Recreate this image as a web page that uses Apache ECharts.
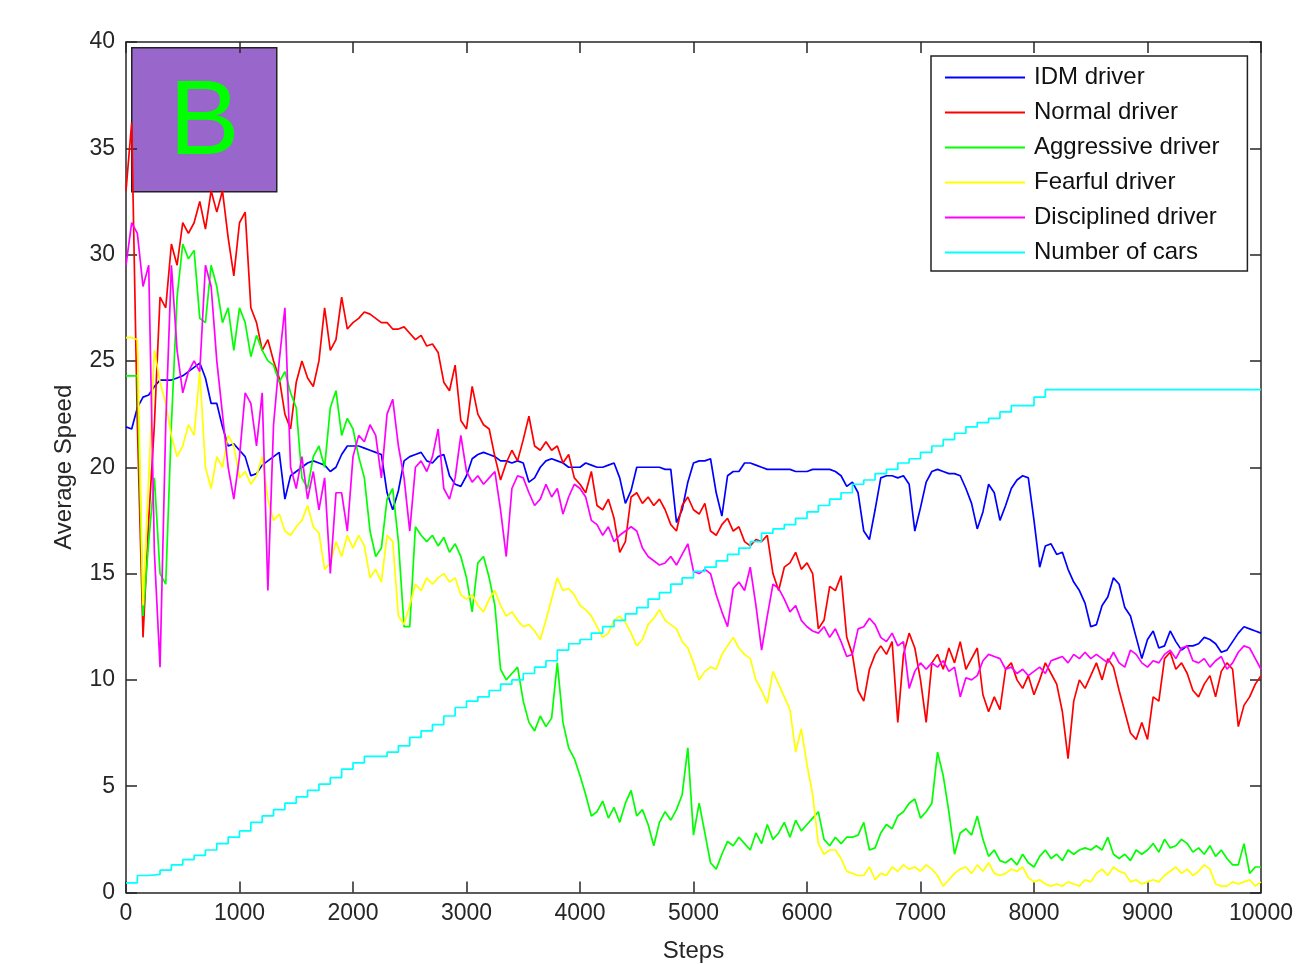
<!DOCTYPE html>
<html>
<head>
<meta charset="utf-8">
<script src="https://cdn.jsdelivr.net/npm/echarts@6/dist/echarts.min.js"></script>
<style>
html,body{margin:0;padding:0;background:#fff;overflow:hidden;}
#chart{width:1300px;height:964px;}
</style>
</head>
<body>
<div id="chart"></div>
<script>
// ---- DATA (sampled every 50 steps from 0 to 10000) ----
const seriesNames = ["IDM driver","Normal driver","Aggressive driver","Fearful driver","Disciplined driver","Number of cars"];
const xTicks = [0,1000,2000,3000,4000,5000,6000,7000,8000,9000,10000];
const yTicks = [0,5,10,15,20,25,30,35,40];

const idmDriver = [
21.9,21.8,22.8,23.3,23.4,23.8,24.1,24.1,24.1,24.2,
24.3,24.5,24.7,24.9,24.2,23.0,23.0,21.9,21.0,21.1,
20.8,20.5,19.6,19.7,20.1,20.3,20.5,20.7,18.5,19.6,
19.8,20.0,20.2,20.3,20.2,20.1,19.8,20.0,20.6,21.0,
21.0,21.0,20.9,20.8,20.7,20.6,18.8,18.0,18.9,20.3,
20.5,20.6,20.7,20.3,20.2,20.5,20.6,19.6,19.2,19.1,
19.6,20.4,20.6,20.7,20.6,20.5,20.3,20.3,20.2,20.3,
20.2,19.3,19.5,20.0,20.3,20.4,20.3,20.2,20.0,20.0,
20.0,20.2,20.1,20.0,20.0,20.1,20.2,19.5,18.3,18.9,
20.0,20.0,20.0,20.0,20.0,19.9,19.9,17.4,18.0,19.3,
20.2,20.3,20.3,20.4,18.8,17.7,19.6,19.8,19.8,20.2,
20.2,20.1,20.0,19.9,19.9,19.9,19.9,19.9,19.8,19.8,
19.8,19.9,19.9,19.9,19.9,19.8,19.6,19.1,19.3,18.8,
17.0,16.6,18.0,19.5,19.6,19.6,19.5,19.6,19.2,17.0,
18.1,19.3,19.8,19.9,19.8,19.7,19.7,19.6,19.0,18.3,
17.1,17.9,19.2,18.8,17.5,18.2,19.0,19.4,19.6,19.5,
17.5,15.3,16.3,16.4,15.9,16.0,15.2,14.6,14.2,13.6,
12.5,12.6,13.5,13.9,14.8,14.5,13.4,13.0,12.0,11.0,
11.9,12.3,11.5,11.6,12.3,11.8,11.4,11.6,11.6,11.7,
12.0,11.9,11.7,11.3,11.4,11.8,12.2,12.5,12.4,12.3,
12.2];

const normalDriver = [
33.0,36.2,22.0,12.0,17.5,22.0,28.0,27.5,30.5,29.5,
31.5,31.0,31.5,32.5,31.2,33.0,32.0,33.0,30.8,29.0,
31.5,32.0,27.5,26.8,25.5,26.0,25.0,24.2,22.5,21.8,
24.0,25.0,24.2,23.8,25.0,27.5,25.5,26.0,28.0,26.5,
26.8,27.0,27.3,27.2,27.0,26.8,26.8,26.5,26.5,26.6,
26.3,26.0,26.2,25.7,25.8,25.4,24.0,23.6,24.8,22.2,
21.8,23.8,22.5,22.0,21.8,20.5,19.4,20.2,20.8,20.3,
21.3,22.4,21.0,20.8,21.2,20.8,21.0,20.2,20.6,19.5,
19.2,18.8,19.8,18.2,18.0,18.5,17.6,16.0,16.5,18.6,
18.8,18.3,18.6,18.2,18.5,18.0,17.3,17.0,18.2,18.6,
18.0,17.8,18.3,17.0,16.8,17.3,17.6,17.0,17.2,16.5,
16.3,16.6,16.5,16.8,15.0,14.2,15.3,15.5,16.0,15.2,
15.5,15.0,12.4,12.8,14.4,14.2,14.9,12.0,11.2,9.5,
9.0,10.5,11.2,11.6,11.2,11.8,8.0,11.2,12.2,11.5,
10.0,8.0,10.8,11.2,10.5,11.5,10.8,11.8,10.5,11.0,
11.5,9.3,8.5,9.2,8.6,10.5,10.8,10.0,9.6,10.2,
9.3,10.0,10.8,10.3,9.8,8.5,6.3,9.0,10.0,9.6,
10.2,10.8,10.0,11.0,10.6,9.5,8.5,7.5,7.2,8.0,
7.2,9.2,9.0,11.0,11.3,10.5,10.8,10.3,9.5,9.2,
9.8,10.2,9.2,10.4,10.8,10.5,7.8,8.8,9.2,9.8,
10.2];

const aggressiveDriver = [
24.3,24.3,24.3,13.0,16.5,19.5,15.0,14.5,22.0,28.0,
30.5,29.8,30.2,27.0,26.8,29.5,28.5,26.8,27.5,25.5,
27.5,26.8,25.2,26.2,25.5,25.0,24.8,24.0,24.5,23.5,
22.8,19.5,19.0,20.5,21.0,20.0,22.8,23.6,21.5,22.3,
21.8,20.5,19.5,17.0,15.8,16.2,18.5,19.0,16.5,12.5,
12.5,17.2,16.8,16.5,16.8,16.3,16.7,16.0,16.4,15.8,
14.8,13.2,15.5,15.8,14.8,13.5,10.5,10.0,10.3,10.6,
9.0,8.0,7.6,8.3,7.8,8.2,10.8,8.0,6.8,6.3,
5.5,4.6,3.6,3.8,4.3,3.5,4.0,3.3,4.2,4.8,
3.6,3.9,3.2,2.2,3.3,3.8,3.4,3.9,4.6,6.8,
2.7,4.2,2.8,1.4,1.1,1.8,2.4,2.2,2.6,2.3,
2.0,2.8,2.3,3.2,2.5,2.8,3.3,2.6,3.4,2.9,
3.2,3.5,3.8,2.5,2.2,2.6,2.3,2.6,2.6,2.7,
3.3,2.0,2.1,2.8,3.2,3.0,3.6,3.8,4.2,4.4,
3.5,3.8,4.2,6.6,5.5,3.8,1.8,2.8,3.0,2.7,
3.6,2.5,1.7,2.0,1.5,1.4,1.6,1.3,1.8,1.4,
1.2,1.7,2.0,1.6,1.8,1.5,2.0,1.8,2.0,2.1,
2.0,2.2,2.0,2.6,1.8,1.6,1.8,1.5,2.0,1.8,
2.0,2.3,1.9,2.5,2.1,2.2,2.5,2.3,1.9,2.1,
1.8,2.2,1.7,2.0,1.6,1.3,1.3,2.3,0.9,1.2,
1.2];

const fearfulDriver = [
26.1,26.1,26.0,13.5,19.5,25.5,24.0,23.0,21.5,20.5,
21.0,22.0,21.5,24.5,20.0,19.0,20.5,20.0,21.5,21.0,
19.5,19.8,19.2,19.6,20.5,18.5,17.5,17.8,17.0,16.8,
17.2,17.5,18.2,17.2,16.9,15.2,15.5,16.5,15.8,16.8,
16.2,16.8,16.3,14.8,15.2,14.6,16.8,16.5,13.0,12.6,
13.5,14.5,14.2,14.8,14.5,14.8,15.0,14.6,14.8,14.0,
13.8,14.0,13.5,13.2,13.8,14.2,13.5,13.0,13.2,12.8,
12.5,12.6,12.3,11.9,12.8,13.8,14.8,14.2,14.3,14.0,
13.5,13.3,13.0,12.5,12.0,12.2,12.8,13.0,12.7,12.2,
11.6,11.9,12.6,12.9,13.3,12.8,12.6,12.4,11.8,11.5,
10.8,10.0,10.4,10.6,10.5,11.2,11.6,12.0,11.5,11.2,
11.0,10.0,9.5,8.9,10.4,9.8,9.2,8.6,6.6,7.7,
6.0,4.6,2.3,1.8,2.0,2.0,1.6,1.0,0.9,0.8,
0.8,1.2,0.6,0.9,0.8,1.2,1.0,1.3,1.1,1.2,
1.0,1.3,1.1,0.8,0.3,0.6,0.9,1.1,1.2,0.9,
1.3,1.0,1.4,0.9,0.8,0.9,1.1,1.0,1.2,0.7,
0.5,0.6,0.4,0.3,0.4,0.3,0.5,0.4,0.3,0.6,
0.5,0.9,1.1,0.8,1.2,1.0,0.9,0.5,0.6,0.4,
0.5,0.6,0.5,0.8,1.0,1.2,0.9,1.1,0.8,1.0,
1.3,1.1,0.4,0.3,0.3,0.5,0.4,0.5,0.6,0.3,
0.5];

const disciplinedDriver = [
29.5,31.5,31.0,28.5,29.5,16.0,10.6,22.0,29.5,25.5,
23.5,24.5,25.0,24.5,29.5,28.5,25.0,22.5,20.0,18.5,
20.5,23.5,23.0,21.0,23.5,14.2,22.0,25.0,27.5,20.0,
19.0,20.5,18.5,19.8,18.0,19.5,15.0,18.8,18.8,17.0,
20.5,21.5,21.2,22.0,21.5,19.5,22.5,23.2,21.0,19.5,
17.0,20.0,20.3,19.8,20.5,21.8,19.0,18.5,19.5,21.5,
19.8,19.3,19.6,19.2,19.5,19.8,18.0,15.8,19.0,19.6,
19.5,18.8,18.2,18.5,19.2,18.6,19.0,17.8,18.6,19.2,
19.0,18.6,17.5,17.3,16.8,17.2,16.5,16.8,17.0,17.2,
17.0,16.2,15.8,15.6,15.4,15.5,15.8,15.4,15.9,16.4,
15.1,15.0,15.2,15.0,14.0,13.2,12.5,14.3,14.6,14.2,
15.3,13.5,11.4,13.0,14.5,14.3,13.8,13.2,13.5,12.8,
12.5,12.3,12.2,12.5,12.0,12.4,11.8,11.1,11.2,12.4,
12.5,12.9,12.6,12.0,11.8,12.2,11.6,11.8,9.6,10.4,
10.8,10.5,10.8,10.6,10.9,10.4,10.6,9.2,10.1,10.0,
10.2,10.9,11.2,11.1,11.0,10.5,10.6,10.3,10.5,10.2,
10.4,10.6,10.3,10.9,11.0,11.1,10.8,11.2,11.0,11.3,
11.0,11.2,11.0,10.8,11.3,10.8,10.6,11.4,11.2,10.8,
10.6,10.9,10.8,11.2,11.4,11.0,11.5,11.6,10.9,10.8,
11.0,10.6,10.9,11.1,10.5,10.8,11.3,11.6,11.5,11.0,
10.5];

// Number of cars, sampled every 100 steps (step line)
const numberOfCars = [
0.45,0.8,0.85,1.05,1.3,1.55,1.75,2.0,2.3,2.6,
2.9,3.3,3.6,3.9,4.2,4.5,4.8,5.1,5.4,5.8,
6.1,6.4,6.4,6.6,6.9,7.3,7.6,7.9,8.3,8.7,
9.0,9.2,9.5,9.8,10.0,10.3,10.6,10.9,11.4,11.7,
11.9,12.2,12.5,12.8,13.1,13.4,13.8,14.1,14.5,14.8,
15.1,15.3,15.6,15.9,16.2,16.5,16.9,17.1,17.3,17.6,
17.9,18.2,18.5,18.8,19.2,19.4,19.7,19.9,20.2,20.4,
20.7,21.0,21.3,21.6,21.9,22.1,22.3,22.6,22.9,22.9,
23.3,23.65,23.65,23.65,23.65,23.65,23.65,23.65,23.65,23.65,
23.65,23.65,23.65,23.65,23.65,23.65,23.65,23.65,23.65,23.65,
23.65];

// sampling positions (x grid)
const steps50 = idmDriver.map((_, i) => i * 50);
const steps100 = numberOfCars.map((_, i) => i * 100);

const colors = ["#0000ff","#ff0000","#00ff00","#ffff00","#ff00ff","#00ffff"];
const speedSeries = [idmDriver, normalDriver, aggressiveDriver, fearfulDriver, disciplinedDriver];

const FONT = "'Liberation Sans', Arial, Helvetica, sans-serif";
const axisColor = "#262626";

const chart = echarts.init(document.getElementById('chart'), null, {renderer: 'canvas', width: 1300, height: 964});

const series = speedSeries.map((arr, k) => ({
  name: seriesNames[k],
  type: 'line',
  xAxisIndex: 0, yAxisIndex: 0,
  data: steps50.map((s, i) => [s, arr[i]]),
  symbol: 'none',
  lineStyle: {color: colors[k], width: 1.7},
  itemStyle: {color: colors[k]},
  animation: false,
  z: 2
}));
series.push({
  name: seriesNames[5],
  type: 'line',
  xAxisIndex: 0, yAxisIndex: 0,
  step: 'end',
  data: steps100.map((s, i) => [s, numberOfCars[i]]),
  symbol: 'none',
  lineStyle: {color: colors[5], width: 1.7},
  itemStyle: {color: colors[5]},
  animation: false,
  z: 3
});

function axisLine() { return {show: true, onZero: false, lineStyle: {color: axisColor, width: 1.5}}; }
function axisTick() { return {show: true, inside: true, length: 11, lineStyle: {color: axisColor, width: 1.5}}; }

chart.setOption({
  backgroundColor: '#ffffff',
  animation: false,
  grid: {left: 126, top: 42, width: 1135, height: 850.5, containLabel: false, outerBoundsMode: 'none'},
  xAxis: [
    {
      type: 'value', min: 0, max: 10000, interval: 1000, position: 'bottom',
      axisLine: axisLine(), axisTick: axisTick(), splitLine: {show: false},
      name: 'Steps', nameLocation: 'middle', nameGap: 47,
      nameTextStyle: {fontFamily: FONT, fontSize: 24, color: axisColor},
      axisLabel: {show: true, margin: 10, fontFamily: FONT, fontSize: 23, color: axisColor,
        formatter: v => xTicks.indexOf(v) >= 0 ? String(v) : ''}
    },
    {
      type: 'value', min: 0, max: 10000, interval: 1000, position: 'top',
      axisLine: axisLine(), axisTick: axisTick(), splitLine: {show: false},
      axisLabel: {show: false}
    }
  ],
  yAxis: [
    {
      type: 'value', min: 0, max: 40, interval: 5, position: 'left',
      axisLine: axisLine(), axisTick: axisTick(), splitLine: {show: false},
      name: 'Average Speed', nameLocation: 'middle', nameGap: 50,
      nameTextStyle: {fontFamily: FONT, fontSize: 24, color: axisColor},
      axisLabel: {show: true, margin: 11, fontFamily: FONT, fontSize: 23, color: axisColor,
        formatter: v => yTicks.indexOf(v) >= 0 ? String(v) : ''}
    },
    {
      type: 'value', min: 0, max: 40, interval: 5, position: 'right',
      axisLine: axisLine(), axisTick: axisTick(), splitLine: {show: false},
      axisLabel: {show: false}
    }
  ],
  legend: {
    show: true,
    orient: 'vertical',
    left: 931, top: 56,
    data: seriesNames,
    icon: 'rect',
    itemWidth: 80, itemHeight: 2, itemGap: 10,
    padding: [9, 28, 6, 14],
    backgroundColor: '#ffffff',
    borderColor: '#222222', borderWidth: 1.5,
    textStyle: {fontFamily: FONT, fontSize: 24, lineHeight: 25, color: '#111', padding: [0, 0, 0, 4]},
    selectedMode: false,
    z: 50
  },
  graphic: [
    {
      type: 'group', left: 131, top: 47, z: 100,
      children: [
        {type: 'rect', shape: {x: 0, y: 0, width: 145, height: 144},
         style: {fill: '#9966cc', stroke: '#222222', lineWidth: 1.5}},
        {type: 'text', x: 72.5, y: 77, style: {text: 'B', fill: '#00ff00',
         font: '106px ' + FONT, textAlign: 'center', textVerticalAlign: 'middle'}}
      ]
    }
  ],
  series: series
});
</script>
</body>
</html>
